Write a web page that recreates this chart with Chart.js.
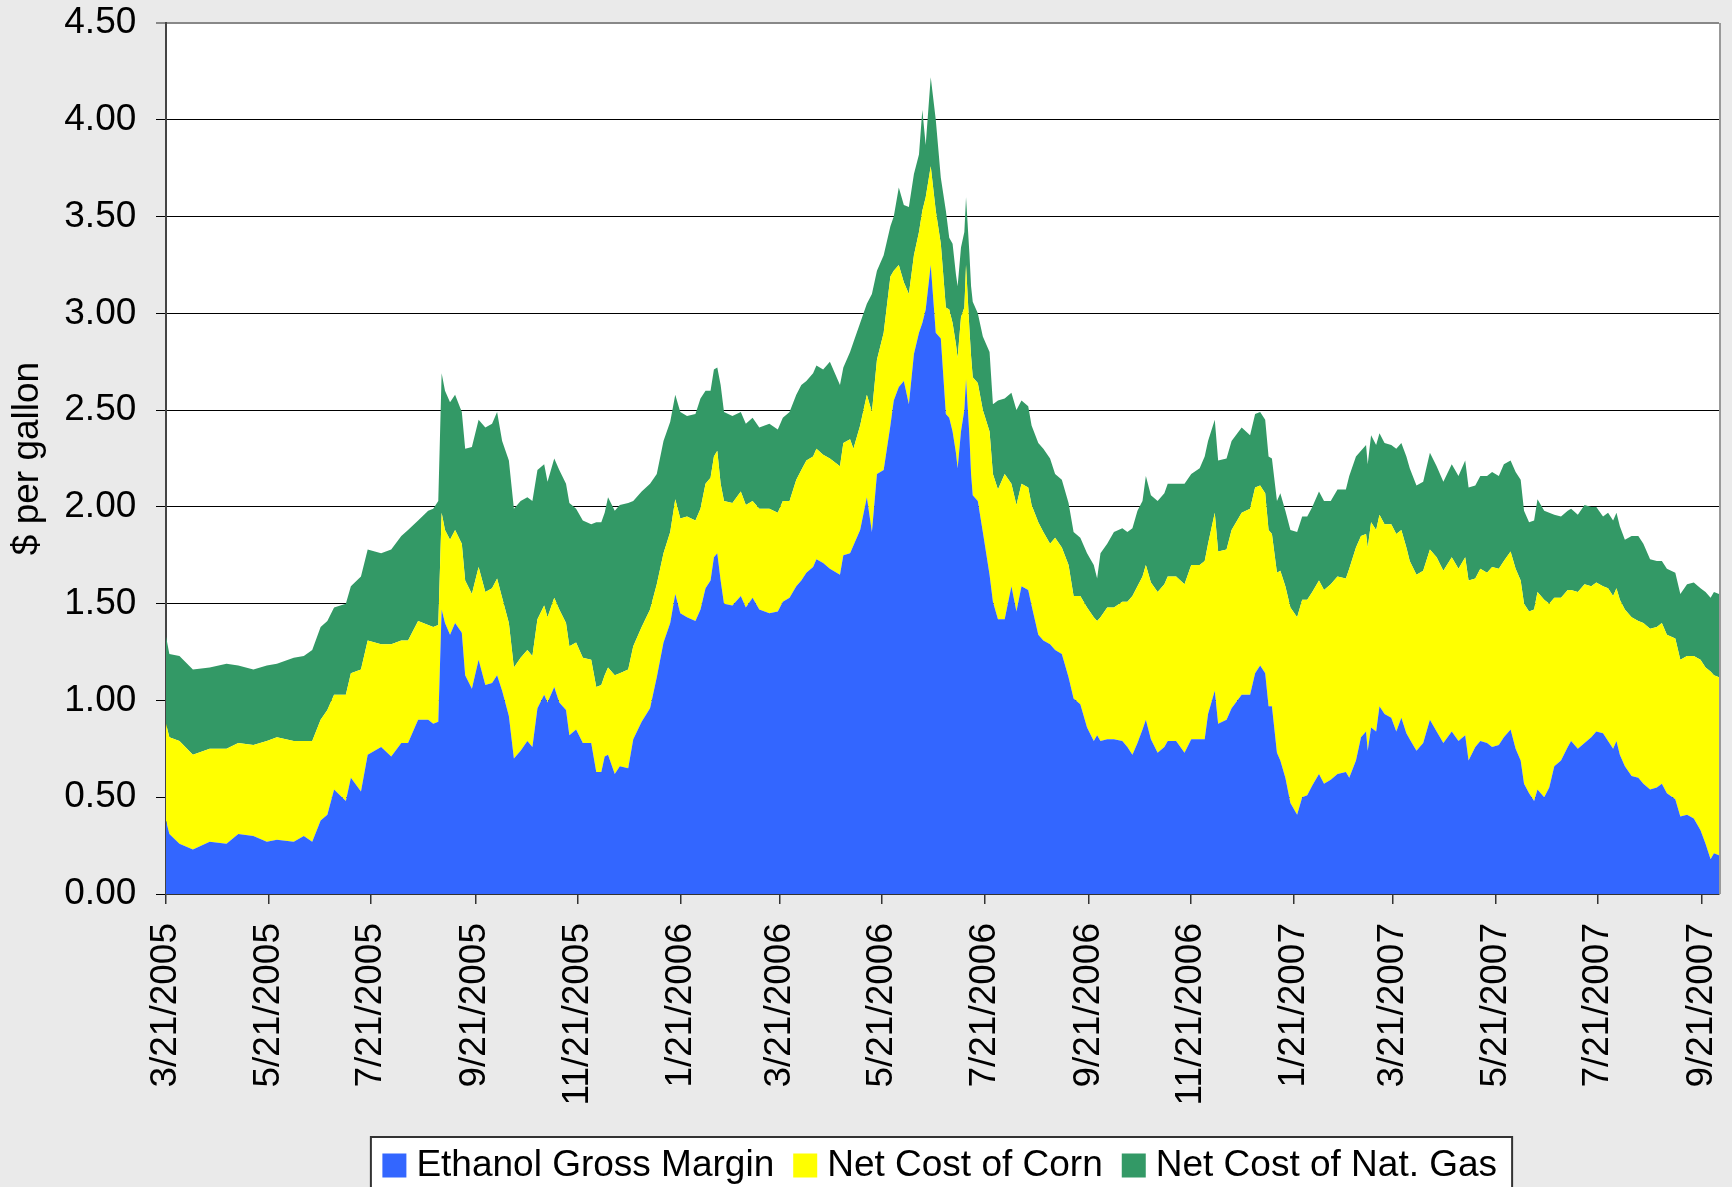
<!DOCTYPE html>
<html>
<head>
<meta charset="utf-8">
<script src="https://cdn.jsdelivr.net/npm/chart.js@4.4.0/dist/chart.umd.min.js"></script>
<style>
  html, body { margin: 0; padding: 0; background: #eaeaea; overflow: hidden; }
  #wrap { width: 1732px; height: 1194px; }
</style>
</head>
<body>
<div id="wrap"><canvas id="canvas"></canvas></div>
<script>
// days since 3/21/2005
const days = [
  0, 2, 8, 16, 26, 36, 43, 52, 60, 66,
  76, 82, 87, 92, 96, 100, 107, 110, 116, 120,
  128, 134, 140, 144, 150, 156, 159, 162, 164, 166,
  169, 172, 176, 178, 182, 186, 190, 194, 197, 200,
  204, 207, 211, 215, 218, 221, 225, 227, 231, 234,
  238, 240, 244, 248, 253, 256, 259, 261, 263, 267,
  270, 275, 278, 283, 288, 292, 296, 300, 303, 306,
  310, 315, 318, 321, 324, 326, 328, 330, 332, 337,
  342, 345, 349, 353, 359, 364, 367, 371, 375, 378,
  381, 385, 387, 391, 395, 401, 403, 407, 409, 413,
  417, 420, 423, 427, 431, 433, 436, 439, 442, 445,
  448, 450, 452, 455, 458, 461, 464, 466, 468, 470,
  471, 473, 475, 476, 478, 479, 480, 483, 486, 490,
  492, 495, 499, 503, 506, 509, 513, 515, 519, 522,
  526, 529, 533, 537, 540, 544, 548, 552, 554, 556,
  560, 564, 569, 572, 575, 578, 581, 583, 586, 590,
  594, 596, 601, 606, 610, 615, 618, 620, 624, 626,
  631, 634, 640, 645, 648, 651, 654, 656, 658, 661,
  663, 666, 669, 673, 676, 679, 682, 686, 689, 693,
  697, 702, 704, 708, 711, 714, 715, 717, 720, 722,
  725, 729, 732, 735, 738, 740, 744, 748, 752, 756,
  760, 765, 769, 773, 775, 779, 782, 786, 789, 793,
  796, 800, 803, 806, 808, 811, 814, 816, 820, 823,
  826, 830, 834, 836, 840, 844, 848, 851, 855, 858,
  861, 863, 865, 868, 872, 876, 879, 883, 887, 890,
  893, 898, 901, 905, 909, 913, 916, 919, 921, 924
];

const margin = [
  .38, .31, .26, .23, .27, .26, .31, .30, .27, .28,
  .27, .30, .27, .38, .41, .54, .48, .60, .53, .72,
  .76, .71, .78, .78, .90, .90, .88, .89, 1.47, 1.40,
  1.34, 1.40, 1.35, 1.13, 1.06, 1.21, 1.08, 1.09, 1.13, 1.05,
  .92, .70, .74, .79, .76, .96, 1.03, .99, 1.07, .99,
  .95, .82, .85, .78, .78, .63, .63, .71, .72, .62,
  .66, .65, .80, .89, .96, 1.12, 1.30, 1.40, 1.55, 1.45,
  1.43, 1.41, 1.47, 1.58, 1.62, 1.74, 1.76, 1.62, 1.50, 1.49,
  1.54, 1.48, 1.53, 1.47, 1.45, 1.46, 1.51, 1.53, 1.59, 1.62,
  1.66, 1.69, 1.73, 1.71, 1.68, 1.65, 1.75, 1.76, 1.80, 1.88,
  2.05, 1.87, 2.17, 2.19, 2.42, 2.55, 2.62, 2.65, 2.53, 2.79,
  2.90, 2.95, 3.02, 3.25, 2.90, 2.87, 2.48, 2.46, 2.39, 2.28,
  2.20, 2.39, 2.50, 2.66, 2.37, 2.17, 2.06, 2.03, 1.87, 1.65,
  1.51, 1.42, 1.42, 1.59, 1.46, 1.59, 1.57, 1.49, 1.34, 1.31,
  1.29, 1.26, 1.24, 1.12, 1.01, .98, .86, .79, .82, .79,
  .80, .80, .79, .76, .72, .78, .85, .90, .80, .73,
  .76, .79, .79, .73, .80, .80, .80, .93, 1.05, .88,
  .90, .96, 1.03, 1.03, 1.14, 1.18, 1.14, .97, .97, .73,
  .69, .60, .47, .41, .50, .51, .56, .62, .57, .59,
  .62, .63, .60, .69, .81, .84, .74, .86, .84, .97,
  .93, .91, .84, .91, .83, .80, .74, .78, .90, .84,
  .78, .84, .79, .82, .69, .76, .79, .78, .76, .77,
  .81, .85, .75, .69, .57, .52, .48, .54, .50, .55,
  .66, .69, .76, .79, .75, .78, .81, .84, .83, .79,
  .75, .79, .72, .66, .61, .60, .57, .54, .55, .57,
  .52, .49, .40, .41, .39, .33, .26, .18, .21, .20
];

const corn = [
  .50, .50, .53, .49, .48, .49, .47, .47, .52, .53,
  .52, .49, .52, .52, .54, .49, .55, .54, .63, .59,
  .53, .58, .53, .53, .51, .49, .50, .50, .50, .48,
  .49, .48, .46, .49, .49, .48, .48, .49, .50, .48,
  .48, .47, .48, .47, .47, .46, .46, .44, .46, .48,
  .45, .46, .45, .44, .43, .44, .45, .42, .45, .51,
  .48, .51, .48, .49, .51, .48, .46, .47, .49, .49,
  .52, .52, .52, .54, .53, .52, .53, .50, .53, .53,
  .54, .53, .50, .52, .54, .51, .52, .50, .55, .57,
  .58, .57, .57, .56, .57, .56, .58, .59, .50, .54,
  .53, .62, .59, .71, .77, .67, .63, .51, .57, .51,
  .52, .58, .58, .51, .63, .49, .55, .56, .56, .56,
  .57, .59, .53, .59, .55, .61, .61, .61, .63, .74,
  .66, .67, .75, .53, .55, .53, .53, .52, .58, .56,
  .52, .58, .55, .58, .53, .56, .62, .64, .59, .64,
  .68, .68, .72, .75, .82, .81, .79, .80, .81, .83,
  .84, .85, .85, .87, .90, .90, .92, .88, .92, .89,
  .88, .92, .94, .96, .96, .93, .93, .91, .89, .93,
  .98, .99, 1.01, 1.02, 1.02, 1.01, 1.00, 1.00, 1.00, 1.01,
  1.02, 1.00, 1.08, 1.10, 1.04, 1.02, 1.05, 1.06, 1.04, .99,
  .98, 1.00, 1.02, .97, .96, .92, .91, .89, .88, .90,
  .89, .90, .89, .92, .93, .87, .89, .88, .93, .91,
  .91, .92, .93, .93, .93, .94, .99, 1.02, 1.02, .95,
  .87, .84, .81, .78, .81, .82, .78, .77, .76, .79,
  .79, .79, .80, .81, .82, .81, .83, .83, .83, .83,
  .82, .83, .81, .82, .84, .88, .91, .97, .92, .92
];

const gas = [
  .45, .43, .44, .44, .42, .44, .40, .39, .39, .38,
  .43, .44, .47, .48, .46, .45, .47, .45, .48, .47,
  .47, .49, .54, .57, .52, .59, .61, .64, .72, .72,
  .71, .70, .68, .68, .76, .76, .85, .85, .86, .81,
  .84, .82, .81, .79, .80, .77, .73, .70, .72, .72,
  .72, .74, .69, .71, .70, .85, .84, .84, .88, .85,
  .87, .86, .75, .70, .65, .57, .58, .57, .54, .55,
  .52, .55, .57, .48, .45, .45, .43, .51, .46, .45,
  .41, .42, .43, .42, .44, .43, .43, .46, .44, .44,
  .41, .43, .43, .44, .50, .42, .39, .45, .55, .53,
  .47, .61, .46, .40, .26, .28, .40, .40, .45, .42,
  .40, .52, .27, .46, .47, .34, .50, .37, .41, .36,
  .37, .36, .39, .35, .39, .36, .39, .36, .38, .41,
  .36, .46, .39, .47, .49, .43, .42, .41, .41, .43,
  .44, .33, .35, .32, .33, .30, .28, .27, .22, .33,
  .33, .39, .38, .36, .35, .39, .39, .46, .45, .47,
  .47, .48, .48, .52, .47, .50, .54, .53, .48, .47,
  .47, .46, .44, .38, .38, .38, .38, .38, .39, .37,
  .40, .39, .40, .44, .43, .43, .44, .46, .46, .43,
  .45, .46, .48, .47, .44, .46, .43, .45, .44, .42,
  .42, .41, .44, .45, .47, .48, .46, .46, .50, .47,
  .46, .48, .48, .50, .48, .48, .48, .50, .49, .48,
  .50, .47, .50, .52, .48, .46, .46, .48, .46, .47,
  .43, .42, .41, .42, .40, .41, .41, .39, .36, .39,
  .39, .39, .38, .36, .42, .44, .41, .36, .34, .32,
  .34, .34, .34, .37, .38, .37, .39, .38, .43, .43
];

const tickDays = [0, 61, 122, 184, 245, 306, 365, 426, 487, 549, 610, 671, 730, 791, 852, 914];
const tickLabels = ['3/21/2005', '5/21/2005', '7/21/2005', '9/21/2005', '11/21/2005', '1/21/2006',
  '3/21/2006', '5/21/2006', '7/21/2006', '9/21/2006', '11/21/2006', '1/21/2007',
  '3/21/2007', '5/21/2007', '7/21/2007', '9/21/2007'];

const FONT = 'Liberation Sans, Arial, sans-serif';

function pts(arr) {
  return days.map((d, i) => ({ x: d, y: arr[i] }));
}

// white plot area, framed legend with its own squares, grey right edge
const frame = {
  id: 'frame',
  afterLayout(chart) {
    const lg = chart.legend;
    lg.left += 5;
    lg.right += 5;
    lg.legendHitBoxes.forEach(b => { b.left += 5; });
  },
  beforeDraw(chart) {
    const { ctx, chartArea: a, legend } = chart;
    ctx.save();
    ctx.fillStyle = '#ffffff';
    ctx.fillRect(a.left, a.top, a.right - a.left, a.bottom - a.top);
    const boxes = legend.legendHitBoxes;
    const last = boxes[boxes.length - 1];
    const l = boxes[0].left - 27;
    const r = last.left + last.width + 15;
    const t = boxes[0].top - 10;
    ctx.fillRect(l, t, r - l, chart.height - t + 10);
    ctx.strokeStyle = '#333';
    ctx.lineWidth = 2;
    ctx.strokeRect(l, t, r - l, chart.height - t + 10);
    ctx.restore();
  },
  afterDatasetsDraw(chart) {
    const { ctx, chartArea: a } = chart;
    ctx.save();
    ctx.strokeStyle = '#999';
    ctx.lineWidth = 2;
    ctx.beginPath();
    ctx.moveTo(a.right + 1, a.top);
    ctx.lineTo(a.right + 1, a.bottom);
    ctx.stroke();
    ctx.restore();
  },
  afterDraw(chart) {
    const { ctx, legend } = chart;
    ctx.save();
    legend.legendHitBoxes.forEach((b, i) => {
      ctx.fillStyle = chart.data.datasets[i].backgroundColor;
      ctx.fillRect(b.left - 15.5, b.top + 18.5 - 12, 24, 24);
    });
    ctx.restore();
  }
};

const ctx = document.getElementById('canvas').getContext('2d');
const myChart = new Chart(ctx, {
  type: 'line',
  data: {
    datasets: [
      {
        label: 'Ethanol Gross Margin',
        data: pts(margin),
        backgroundColor: '#3366ff',
        borderColor: 'rgba(0,0,0,0)',
        borderWidth: 1,
        pointRadius: 0,
        fill: 'origin'
      },
      {
        label: 'Net Cost of Corn',
        data: pts(corn),
        backgroundColor: '#ffff00',
        borderColor: 'rgba(0,0,0,0)',
        borderWidth: 1,
        pointRadius: 0,
        fill: '-1'
      },
      {
        label: 'Net Cost of Nat. Gas',
        data: pts(gas),
        backgroundColor: '#339966',
        borderColor: 'rgba(0,0,0,0)',
        borderWidth: 1,
        pointRadius: 0,
        fill: '-1'
      }
    ]
  },
  options: {
    responsive: true,
    maintainAspectRatio: false,
    animation: false,
    events: [],
    layout: { padding: { top: 23, right: 13, left: 0, bottom: 0 } },
    plugins: {
      tooltip: { enabled: false },
      legend: {
        position: 'bottom',
        fullSize: false,
        labels: {
          boxWidth: 0,
          boxHeight: 24,
          padding: 34.5,
          color: '#000',
          font: { family: FONT, size: 37 }
        }
      }
    },
    scales: {
      x: {
        type: 'linear',
        min: 0,
        max: 924,
        afterBuildTicks(scale) {
          scale.ticks = tickDays.map(v => ({ value: v }));
        },
        afterFit(scale) {
          scale.height = 218.5;
          scale.paddingLeft = 0;
          scale.paddingRight = 0;
        },
        ticks: {
          autoSkip: false,
          minRotation: 90,
          maxRotation: 90,
          padding: 19,
          color: '#000',
          font: { family: FONT, size: 37 },
          callback: (v, i) => tickLabels[i]
        },
        grid: { drawOnChartArea: false, tickLength: 10, color: '#333', lineWidth: 1.5 },
        border: { color: '#333', width: 2 }
      },
      y: {
        stacked: true,
        min: 0,
        max: 4.5,
        afterFit(scale) {
          scale.width = 166;
          scale.paddingTop = 0;
          scale.paddingBottom = 0;
        },
        ticks: {
          stepSize: 0.5,
          padding: 19.7,
          color: '#000',
          font: { family: FONT, size: 37 },
          callback: v => v.toFixed(2)
        },
        grid: {
          tickLength: 10,
          color: c => (c.tick && c.tick.value === 4.5 ? '#888' : '#000'),
          lineWidth: c => (c.tick && c.tick.value === 4.5 ? 2 : 1)
        },
        border: { color: '#444', width: 2 },
        title: {
          display: true,
          text: '$ per gallon',
          color: '#000',
          font: { family: FONT, size: 37, lineHeight: 1 },
          padding: { top: 9, bottom: 0 }
        }
      }
    }
  },
  plugins: [frame]
});
</script>
</body>
</html>
